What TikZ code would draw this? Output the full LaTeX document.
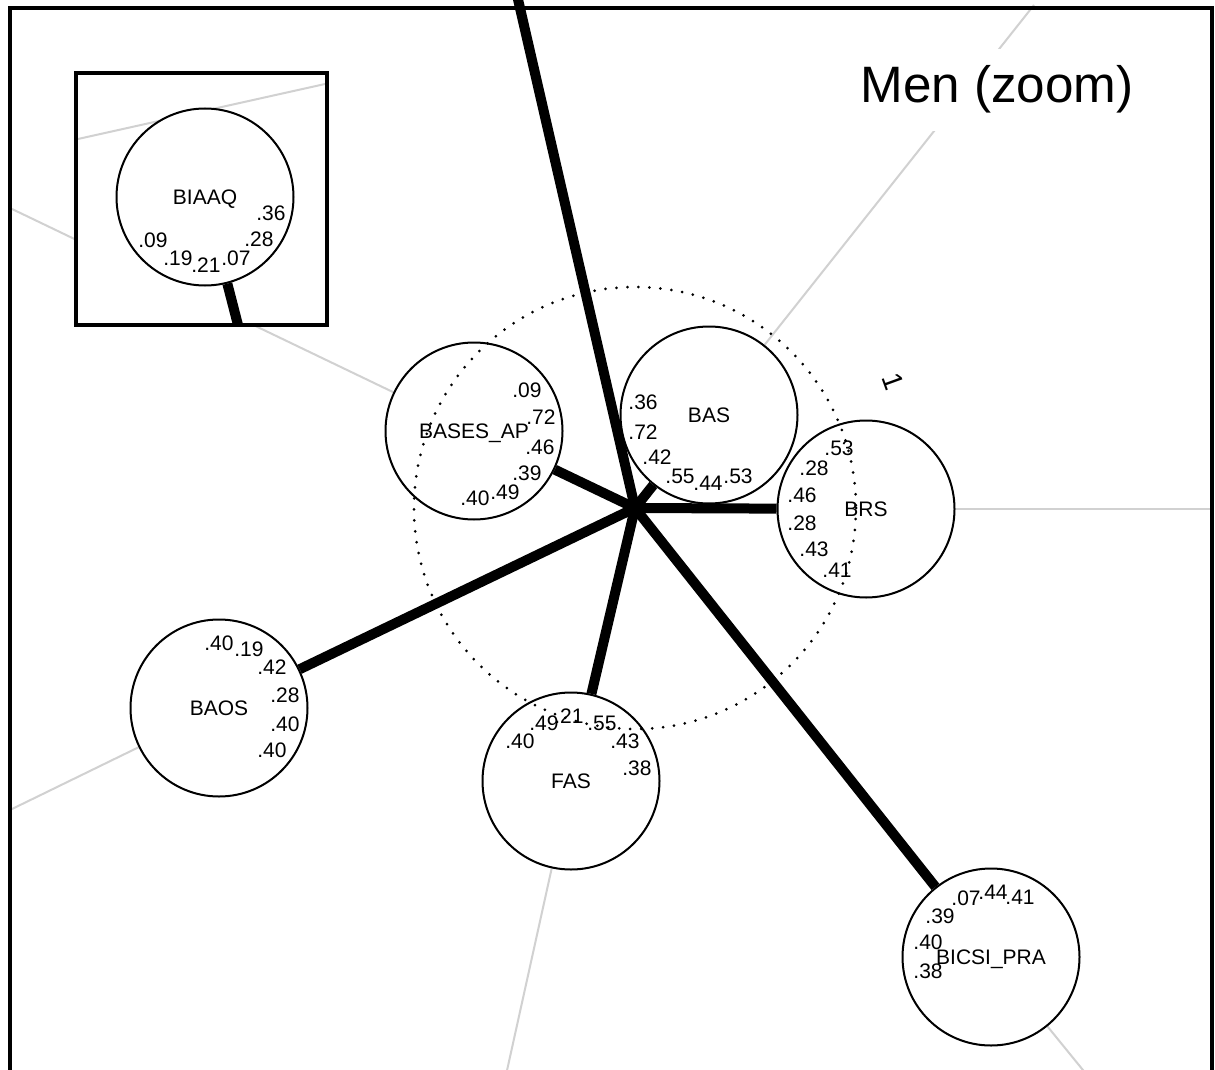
\documentclass[tikz,border=0pt]{standalone}
\usepackage{fontspec}
\setmainfont{Liberation Sans}
\pgfdeclarelayer{background}
\pgfsetlayers{background,main}
\begin{document}
\begin{tikzpicture}[x=0.5pt,y=-0.5pt,
  vcirc/.style={circle,draw=black,line width=1pt,fill=white,minimum size=88.5pt,inner sep=0pt,font=\fontsize{10.5}{12}\selectfont,text depth=0pt},
  num/.style={inner sep=0pt,font=\fontsize{10.5}{12}\selectfont},
  spoke/.style={line width=5pt},
  faint/.style={draw=black!18,line width=1pt},
  ring/.style={line width=1.5pt,dash pattern=on 0pt off 5.5pt,line cap=round},
  frameline/.style={line width=2pt},
]
\useasboundingbox (0,0) rectangle (1215,1070);
\clip (0,0) rectangle (1215,1070);

% free ends
\coordinate (hub) at (635,508);
\coordinate (topend) at (517,-5);
\coordinate (gA) at (12,209);
\coordinate (gB) at (1034,5);
\coordinate (gC) at (1212,509);
\coordinate (gD) at (12,809);
\coordinate (gE) at (506,1075);
\coordinate (gF) at (1087,1075);
\coordinate (inL) at (78,139);
\coordinate (inR) at (325,84);
\coordinate (inS) at (238,325);

% main nodes
\node[vcirc] (BASESAP) at (474,431) {BASES\_AP};
\node[vcirc] (BAS) at (709,415) {BAS};
\node[vcirc] (BRS) at (866,509) {BRS};
\node[vcirc] (BAOS) at (219,708) {BAOS};
\node[vcirc] (FAS) at (571,781) {FAS};
\node[vcirc] (BICSI) at (991,957) {BICSI\_PRA};

% faint connectors
\begin{pgfonlayer}{background}
\fill[white] (0,0) rectangle (1215,1070);
\draw[faint] (BASESAP) -- (gA);
\draw[faint] (BAS) -- (gB);
\draw[faint] (BRS) -- (gC);
\draw[faint] (BAOS) -- (gD);
\draw[faint] (FAS) -- (gE);
\draw[faint] (BICSI) -- (gF);
\end{pgfonlayer}

% title
\node[fill=white,inner sep=8.5pt,anchor=base,font=\fontsize{25.6}{30}\selectfont] (title) at (997,103) {Men (zoom)};

% inset
\fill[white] (76,73) rectangle (327,325);
\draw[faint] (inL) -- (inR);
\node[vcirc] (BIAAQ) at (205,197) {BIAAQ};
\draw[spoke] (BIAAQ) -- (inS);
\draw[line width=2.25pt] (76,73) rectangle (327,325);

% loadings
\node[num] (q1) at (271,213) {.36};
\node[num] (q2) at (259,239) {.28};
\node[num] (q3) at (236,258) {.07};
\node[num] (q4) at (206,265) {.21};
\node[num] (q5) at (178,258) {.19};
\node[num] (q6) at (153,240) {.09};

\node[num] (a1) at (527,390) {.09};
\node[num] (a2) at (541,417) {.72};
\node[num] (a3) at (540,447) {.46};
\node[num] (a4) at (527,473) {.39};
\node[num] (a5) at (505,492) {.49};
\node[num] (a6) at (475,498) {.40};

\node[num] (b1) at (643,402) {.36};
\node[num] (b2) at (643,432) {.72};
\node[num] (b3) at (657,457) {.42};
\node[num] (b4) at (680,476) {.55};
\node[num] (b5) at (708,483) {.44};
\node[num] (b6) at (738,476) {.53};

\node[num] (r1) at (839,448) {.53};
\node[num] (r2) at (814,468) {.28};
\node[num] (r3) at (802,495) {.46};
\node[num] (r4) at (802,523) {.28};
\node[num] (r5) at (814,549) {.43};
\node[num] (r6) at (837,570) {.41};

\node[num] (o1) at (219,643) {.40};
\node[num] (o2) at (249,649) {.19};
\node[num] (o3) at (272,667) {.42};
\node[num] (o4) at (285,695) {.28};
\node[num] (o5) at (285,724) {.40};
\node[num] (o6) at (272,750) {.40};

\node[num] (f1) at (520,741) {.40};
\node[num] (f2) at (544,723) {.49};
\node[num] (f3) at (569,716) {.21};
\node[num] (f4) at (602,723) {.55};
\node[num] (f5) at (625,741) {.43};
\node[num] (f6) at (637,768) {.38};

\node[num] (p1) at (966,898) {.07};
\node[num] (p2) at (993,892) {.44};
\node[num] (p3) at (1020,897) {.41};
\node[num] (p4) at (940,916) {.39};
\node[num] (p5) at (928,942) {.40};
\node[num] (p6) at (928,971) {.38};

% unit circle
\draw[ring] (hub) circle[radius=221];
\node[num,rotate=-70,font=\fontsize{14}{16}\selectfont] (one) at (893,382) {1};

% spokes
\draw[spoke] (hub) -- (topend);
\draw[spoke] (hub) -- (BASESAP);
\draw[spoke] (hub) -- (BAS);
\draw[spoke] (hub) -- (BRS);
\draw[spoke] (hub) -- (BAOS);
\draw[spoke] (hub) -- (FAS);
\draw[spoke] (hub) -- (BICSI);

% frame
\draw[frameline] (10,1080) -- (10,8) -- (1212,8) -- (1212,1080);
\end{tikzpicture}
\end{document}
